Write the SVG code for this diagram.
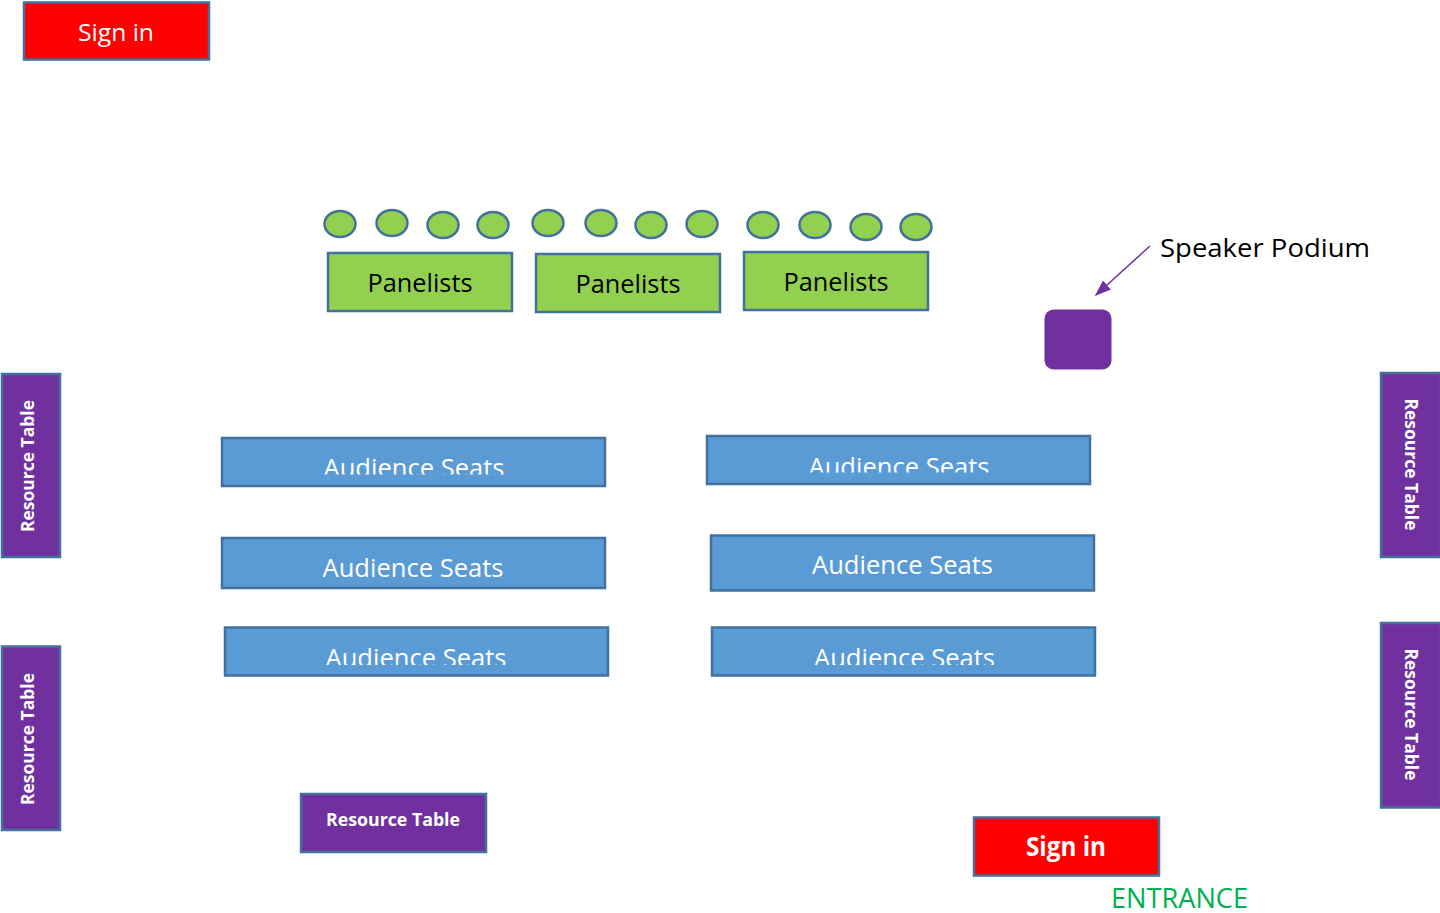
<svg xmlns="http://www.w3.org/2000/svg" width="1440" height="913" viewBox="0 0 1440 913">
  <style>
    .box { stroke: #41719C; stroke-width: 2.5; }
    .signin { fill: #FF0000; }
    .panel { fill: #92D050; }
    .seat { fill: #92D050; stroke: #41719C; stroke-width: 2.5; }
    .aud { fill: #5B9BD5; }
    .res { fill: #7030A0; }
    text { font-family: "Open Sans", "Noto Sans", "Liberation Sans", sans-serif; }
    .w { fill: #FFFFFF; }
    .k { fill: #000000; }
    .b { font-weight: bold; }
    .audtxt { font-size: 25.5px; fill: #FFFFFF; text-anchor: middle; }
    .pantxt { font-size: 26px; fill: #000000; text-anchor: middle; }
    .restxt { font-size: 17.5px; font-weight: bold; fill: #FFFFFF; text-anchor: middle; }
  </style>
  <defs>
    <marker id="arrow" viewBox="0 0 10 10" refX="9" refY="5" markerWidth="11" markerHeight="8" orient="auto" markerUnits="strokeWidth" preserveAspectRatio="none">
      <path d="M0,0 L10,5 L0,10 z" fill="#7030A0"/>
    </marker>
    <clipPath id="clipL1"><rect x="222" y="438" width="383" height="36.5"/></clipPath>
    <clipPath id="clipR1"><rect x="707" y="435" width="384" height="37.5"/></clipPath>
    <clipPath id="clipL3"><rect x="224" y="627" width="384" height="38"/></clipPath>
    <clipPath id="clipR3"><rect x="712" y="627" width="384" height="38"/></clipPath>
  </defs>

  <rect x="0" y="0" width="1440" height="913" fill="#FFFFFF"/>

  <!-- Sign-in desk, top -->
  <g id="signin-top">
    <rect class="box signin" x="24" y="2.5" width="185" height="57"/>
    <text class="w" x="116" y="40.5" font-size="24.5" text-anchor="middle" textLength="76" lengthAdjust="spacingAndGlyphs">Sign in</text>
  </g>

  <!-- Panelist chairs -->
  <g id="panel-chairs">
    <ellipse class="seat" cx="340" cy="224" rx="15.5" ry="13"/>
    <ellipse class="seat" cx="392" cy="223" rx="15.5" ry="13"/>
    <ellipse class="seat" cx="443" cy="225" rx="15.5" ry="13"/>
    <ellipse class="seat" cx="493" cy="225" rx="15.5" ry="13"/>
    <ellipse class="seat" cx="548" cy="223" rx="15.5" ry="13"/>
    <ellipse class="seat" cx="601" cy="223" rx="15.5" ry="13"/>
    <ellipse class="seat" cx="651" cy="225" rx="15.5" ry="13"/>
    <ellipse class="seat" cx="702" cy="224" rx="15.5" ry="13"/>
    <ellipse class="seat" cx="763" cy="225" rx="15.5" ry="13"/>
    <ellipse class="seat" cx="815" cy="225" rx="15.5" ry="13"/>
    <ellipse class="seat" cx="866" cy="227" rx="15.5" ry="13"/>
    <ellipse class="seat" cx="916" cy="227" rx="15.5" ry="13"/>
  </g>

  <!-- Panelist tables -->
  <g id="panelists-1">
    <rect class="box panel" x="328" y="253" width="184" height="58"/>
    <text class="pantxt" x="420" y="292" textLength="105" lengthAdjust="spacingAndGlyphs">Panelists</text>
  </g>
  <g id="panelists-2">
    <rect class="box panel" x="536" y="254" width="184" height="58"/>
    <text class="pantxt" x="628" y="293" textLength="105" lengthAdjust="spacingAndGlyphs">Panelists</text>
  </g>
  <g id="panelists-3">
    <rect class="box panel" x="744" y="252" width="184" height="58"/>
    <text class="pantxt" x="836" y="291" textLength="105" lengthAdjust="spacingAndGlyphs">Panelists</text>
  </g>

  <!-- Speaker podium -->
  <g id="podium">
    <rect class="res" x="1044.5" y="309.5" width="67" height="60" rx="9" ry="9"/>
  </g>
  <g id="podium-label">
    <text class="k" x="1160" y="256.5" font-size="25.5" textLength="210" lengthAdjust="spacingAndGlyphs">Speaker Podium</text>
  </g>

  <!-- Audience rows -->
  <g id="audience-l1">
    <rect class="box aud" x="222" y="438" width="383" height="48"/>
    <text class="audtxt" x="414" y="476.5" clip-path="url(#clipL1)" textLength="181" lengthAdjust="spacingAndGlyphs">Audience Seats</text>
  </g>
  <g id="audience-l2">
    <rect class="box aud" x="222" y="538" width="383" height="50"/>
    <text class="audtxt" x="413" y="577" textLength="181" lengthAdjust="spacingAndGlyphs">Audience Seats</text>
  </g>
  <g id="audience-l3">
    <rect class="box aud" x="225" y="627.5" width="383" height="48"/>
    <text class="audtxt" x="416" y="667" clip-path="url(#clipL3)" textLength="181" lengthAdjust="spacingAndGlyphs">Audience Seats</text>
  </g>
  <g id="audience-r1">
    <rect class="box aud" x="707" y="436" width="383" height="48"/>
    <text class="audtxt" x="899" y="475.5" clip-path="url(#clipR1)" textLength="181" lengthAdjust="spacingAndGlyphs">Audience Seats</text>
  </g>
  <g id="audience-r2">
    <rect class="box aud" x="711" y="535.5" width="383" height="55"/>
    <text class="audtxt" x="902.5" y="574" textLength="181" lengthAdjust="spacingAndGlyphs">Audience Seats</text>
  </g>
  <g id="audience-r3">
    <rect class="box aud" x="712" y="627.5" width="383" height="48"/>
    <text class="audtxt" x="904.5" y="667" clip-path="url(#clipR3)" textLength="181" lengthAdjust="spacingAndGlyphs">Audience Seats</text>
  </g>

  <!-- Resource tables -->
  <g id="resource-left-1">
    <rect class="box res" x="2" y="374" width="58" height="183"/>
    <text class="restxt" transform="translate(33.5 466) rotate(-90)" x="0" y="0" textLength="132" lengthAdjust="spacingAndGlyphs">Resource Table</text>
  </g>
  <g id="resource-left-2">
    <rect class="box res" x="2" y="646.5" width="58" height="183.5"/>
    <text class="restxt" transform="translate(33.5 739) rotate(-90)" x="0" y="0" textLength="132" lengthAdjust="spacingAndGlyphs">Resource Table</text>
  </g>
  <g id="resource-right-1">
    <rect class="box res" x="1381" y="373" width="60" height="184"/>
    <text class="restxt" transform="translate(1404.5 464.5) rotate(90)" x="0" y="0" textLength="132" lengthAdjust="spacingAndGlyphs">Resource Table</text>
  </g>
  <g id="resource-right-2">
    <rect class="box res" x="1381" y="623" width="60" height="184.5"/>
    <text class="restxt" transform="translate(1404.5 714.5) rotate(90)" x="0" y="0" textLength="132" lengthAdjust="spacingAndGlyphs">Resource Table</text>
  </g>
  <g id="resource-bottom">
    <rect class="box res" x="301" y="794" width="185" height="58"/>
    <text class="restxt" x="393" y="826" textLength="134" lengthAdjust="spacingAndGlyphs">Resource Table</text>
  </g>

  <!-- Sign-in desk at the entrance -->
  <g id="signin-entrance">
    <rect class="box signin" x="974" y="817.5" width="185" height="58"/>
    <text class="w b" x="1066" y="856" font-size="26" text-anchor="middle" textLength="80" lengthAdjust="spacingAndGlyphs">Sign in</text>
  </g>
  <g id="entrance-label">
    <text x="1111" y="908" font-size="28" fill="#00B050" textLength="137" lengthAdjust="spacingAndGlyphs">ENTRANCE</text>
  </g>

  <!-- Connectors -->
  <g id="connectors">
    <line x1="1150" y1="246" x2="1096" y2="295" stroke="#7030A0" stroke-width="1.5" marker-end="url(#arrow)"/>
  </g>
</svg>
